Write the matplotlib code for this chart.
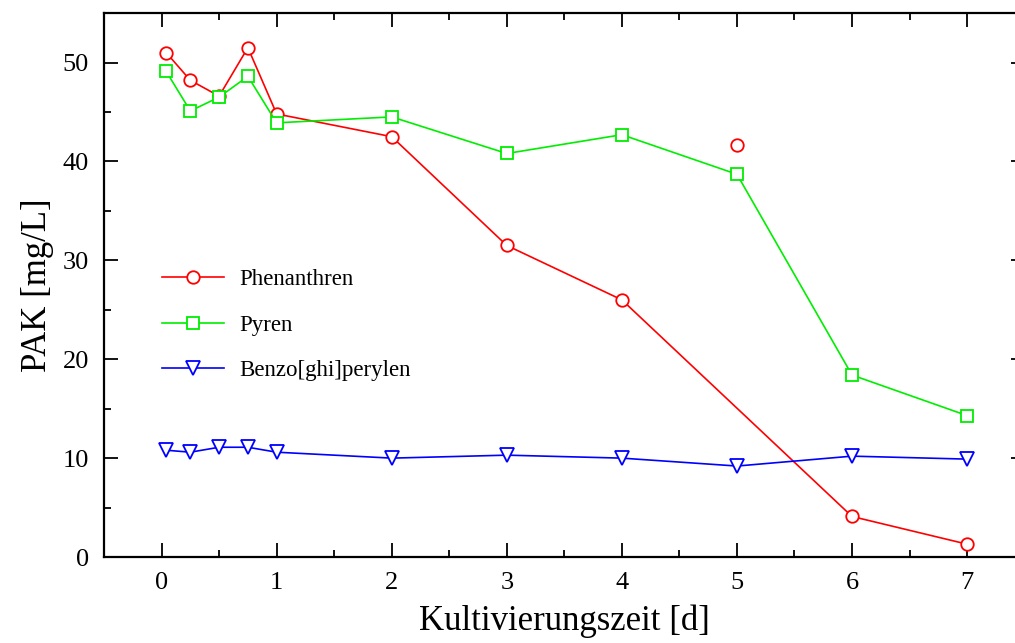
import matplotlib.pyplot as plt
from matplotlib.ticker import MultipleLocator

plt.rcParams['font.family'] = ['Liberation Serif', 'DejaVu Serif']

# time in days
t = [0.04, 0.25, 0.5, 0.75, 1, 2, 3, 4, 5, 6, 7]

# PAK concentrations [mg/L]
phenanthren = [51.0, 48.2, 46.6, 51.5, 44.8, 42.5, 31.5, 26.0, 41.7, 4.1, 1.3]
pyren = [49.1, 45.1, 46.5, 48.6, 43.9, 44.5, 40.8, 42.7, 38.7, 18.4, 14.3]
benzo = [10.8, 10.6, 11.1, 11.1, 10.6, 10.0, 10.3, 10.0, 9.2, 10.2, 9.9]

# phenanthren value at day 5 is an outlier, not connected to the line
outlier = 8

fig = plt.figure(figsize=(10.15, 6.43), dpi=100)
ax = fig.add_axes([0.1025, 0.1337, 0.907, 0.846])

lw = 1.2
ms = 8.5
t_ph = [x for i, x in enumerate(t) if i != outlier]
v_ph = [v for i, v in enumerate(phenanthren) if i != outlier]
ax.plot(t_ph, v_ph, color='#ff0000', lw=lw, marker='o', ms=ms + 0.5,
        mfc='white', mew=1.3, label='Phenanthren')
ax.plot([t[outlier]], [phenanthren[outlier]], ls='none', marker='o', ms=ms + 0.5,
        mfc='white', mec='#ff0000', mew=1.3)
ax.plot(t, pyren, color='#00ee00', lw=lw, marker='s', ms=ms,
        mfc='white', mew=1.3, label='Pyren')
ax.plot(t, benzo, color='#0000ff', lw=lw, marker='v', ms=ms + 1,
        mfc='white', mew=1.3, label='Benzo[ghi]perylen')

ax.set_xlim(-0.5, 7.5)
ax.set_ylim(0, 55)
ax.xaxis.set_major_locator(MultipleLocator(1))
ax.xaxis.set_minor_locator(MultipleLocator(0.5))
ax.yaxis.set_major_locator(MultipleLocator(10))
ax.yaxis.set_minor_locator(MultipleLocator(5))

ax.tick_params(which='both', direction='in', top=True, right=True, width=1.3)
ax.tick_params(which='major', length=10, labelsize=19, pad=11)
ax.tick_params(which='minor', length=5)
for s in ax.spines.values():
    s.set_linewidth(1.6)

ax.set_xlabel('Kultivierungszeit [d]', fontsize=25, labelpad=7)
ax.set_ylabel('PAK [mg/L]', fontsize=25, labelpad=6)

ax.legend(loc='upper left', bbox_to_anchor=(0.041, 0.567), frameon=False,
          fontsize=16.5, handlelength=2.7, handletextpad=0.65, labelspacing=1.06)

fig.savefig('out.png', dpi=100)
